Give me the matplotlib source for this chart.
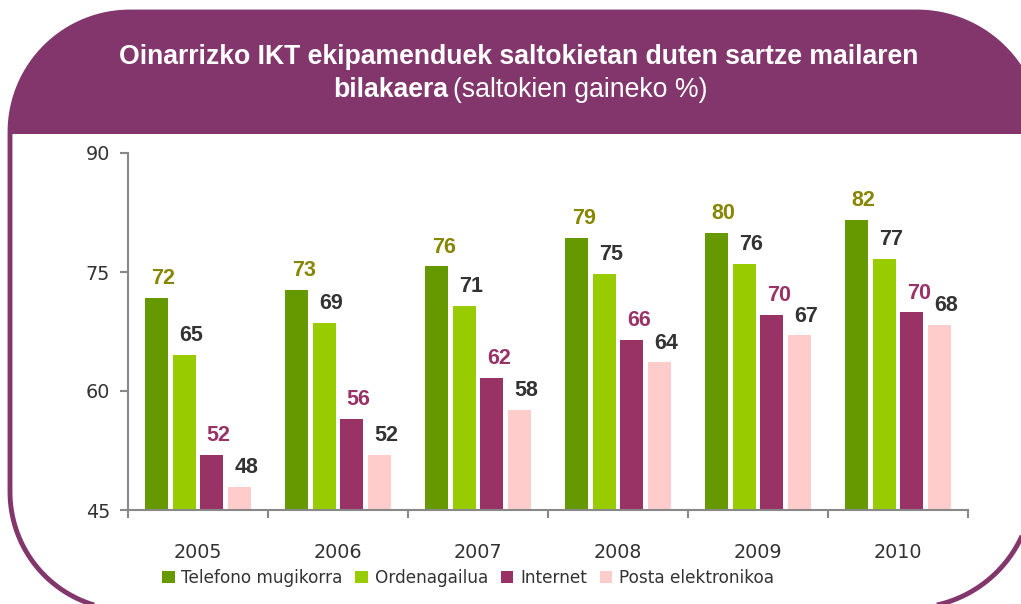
import matplotlib
matplotlib.use("Agg")
import matplotlib.pyplot as plt
from matplotlib.patches import Polygon, Patch
import numpy as np

years = ["2005", "2006", "2007", "2008", "2009", "2010"]
series_names = ["Telefono mugikorra", "Ordenagailua", "Internet", "Posta elektronikoa"]
telefono = [71.7, 72.7, 75.7, 79.3, 79.9, 81.6]
ordenagailua = [64.6, 68.55, 70.7, 74.7, 76.0, 76.6]
internet = [51.9, 56.46, 61.6, 66.4, 69.6, 69.9]
posta = [47.9, 51.93, 57.6, 63.6, 67.0, 68.3]
series = [telefono, ordenagailua, internet, posta]
yticks = [45, 60, 75, 90]

bar_colors = ["#669900", "#99CC00", "#993366", "#FFCCCC"]
label_colors = ["#868600", "#333333", "#993366", "#333333"]
purple = "#82366B"

W, H = 1021, 604
fig = plt.figure(figsize=(W / 100, H / 100), dpi=100)

bg = fig.add_axes([0, 0, 1, 1], zorder=0)
bg.set_xlim(0, W)
bg.set_ylim(H, 0)
bg.axis("off")


def arc(cx, cy, rad, a0, a1, n=40):
    t = np.radians(np.linspace(a0, a1, n))
    return np.column_stack([cx + rad * np.cos(t), cy + rad * np.sin(t)])


pts = np.vstack([
    arc(130, 132, 120, 180, 270),
    arc(917, 135, 123, 270, 360),
    arc(910, 485, 123, 0, 90),
    arc(128, 492, 118, 90, 180),
])
bg.add_patch(Polygon(pts, closed=True, facecolor="white", edgecolor="none", zorder=1))
banner_pts = np.vstack([
    arc(130, 132, 120, 180, 270),
    arc(917, 135, 123, 270, 360),
    [[1045, 134], [10, 134]],
])
bg.add_patch(Polygon(banner_pts, closed=True, facecolor=purple, edgecolor="none", zorder=2))
bg.add_patch(Polygon(pts, closed=True, facecolor="none", edgecolor=purple,
                     linewidth=3.5, joinstyle="round", zorder=3))

bg.text(519, 57, "Oinarrizko IKT ekipamenduek saltokietan duten sartze mailaren",
        color="white", fontsize=19.2, fontweight="bold", family="Liberation Sans",
        ha="center", va="center", zorder=4)
bg.text(448, 90, "bilakaera", color="white", fontsize=19.2, fontweight="bold",
        family="Liberation Sans", ha="right", va="center", zorder=4)
bg.text(453, 90, "(saltokien gaineko %)", color="white", fontsize=19.2,
        family="Liberation Sans", ha="left", va="center", zorder=4)

ax = fig.add_axes([128 / W, 1 - 510 / H, 840 / W, (510 - 153) / H], zorder=1)
ax.patch.set_alpha(0)
x = np.arange(len(years))
step = 0.197
width = 0.164
for i, (vals, c, lc) in enumerate(zip(series, bar_colors, label_colors)):
    pos = x + (i - 1.5) * step
    ax.bar(pos, vals, width=width, color=c, bottom=0, zorder=2)
    for p, v in zip(pos, vals):
        ax.annotate(f"{round(v)}", (p, v), xytext=(5, 10), textcoords="offset points",
                    ha="center", va="baseline", fontsize=15.5, fontweight="bold",
                    family="Liberation Sans", color=lc)

ax.set_xlim(-0.5, len(years) - 0.5)
ax.set_ylim(yticks[0], yticks[-1])
ax.set_yticks(yticks)
ax.set_yticklabels([str(t) for t in yticks])
ax.set_xticks(x)
ax.set_xticklabels(years)
ax.set_xticks(np.arange(len(years) + 1) - 0.5, minor=True)
ax.tick_params(axis="x", which="major", length=0, pad=24, labelsize=13.8, labelcolor="#333333")
ax.tick_params(axis="x", which="minor", length=6, width=1.5, color="#888888", direction="out")
ax.tick_params(axis="y", length=6, width=1.5, color="#888888", pad=7, labelsize=13.8,
               labelcolor="#333333")
for s in ["top", "right"]:
    ax.spines[s].set_visible(False)
for s in ["left", "bottom"]:
    ax.spines[s].set_color("#888888")
    ax.spines[s].set_linewidth(1.5)

handles = [Patch(facecolor=c, edgecolor="none") for c in bar_colors]
fig.legend(handles, series_names, loc="center", bbox_to_anchor=(468 / W, 1 - 578 / H),
           ncol=4, frameon=False, fontsize=12.2, handlelength=0.74, handleheight=0.74,
           handletextpad=0.4, columnspacing=0.75, labelcolor="#333333")

fig.savefig("out.png", dpi=100, facecolor="white")
